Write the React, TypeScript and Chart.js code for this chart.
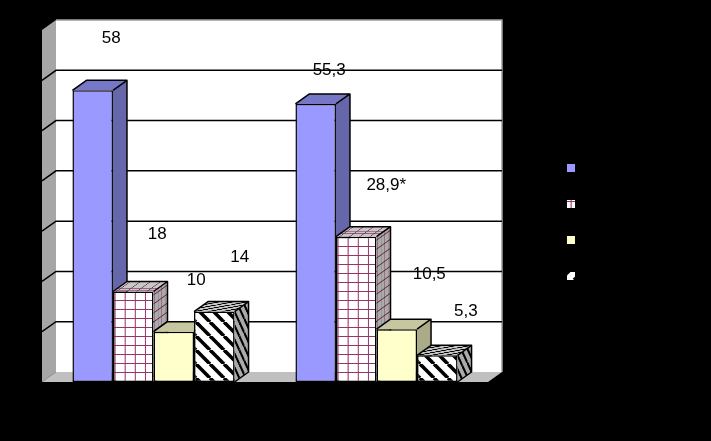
import React, { useEffect, useRef } from "react";
import { Chart, registerables } from "chart.js";

Chart.register(...registerables);

const categories = ["", ""];
const series1 = [58, 55.3];
const series2 = [18, 28.9];
const series3 = [10, 10.5];
const series4 = [14, 5.3];
const labels1 = ["58", "55,3"];
const labels2 = ["18", "28,9*"];
const labels3 = ["10", "10,5"];
const labels4 = ["14", "5,3"];
const yTicks = [0, 10, 20, 30, 40, 50, 60, 70];

const labelOffsets1 = [[18.5, -52], [13.5, -33.5]];
const labelOffsets2 = [[24, -57.5], [30, -51.6]];
const labelOffsets3 = [[22.5, -51.4], [32.5, -55]];
const labelOffsets4 = [[25.5, -54.6], [28.5, -44]];

const DEPTH_X = 14;
const DEPTH_Y = 10;

function tile(w: number, h: number, draw: (c: CanvasRenderingContext2D) => void) {
  const cv = document.createElement("canvas");
  cv.width = w;
  cv.height = h;
  const c = cv.getContext("2d")!;
  draw(c);
  return c.createPattern(cv, "repeat")!;
}

function gridPattern() {
  const p = tile(10, 9, (c) => {
    c.fillStyle = "#ffffff";
    c.fillRect(0, 0, 10, 9);
    c.fillStyle = "#993366";
    c.fillRect(0, 0, 10, 1);
    c.fillRect(0, 0, 1, 9);
  });
  p.setTransform(new DOMMatrix([1.0136, 0, 0, 1, 3, 3]));
  return p;
}

function stripePattern(flip: boolean) {
  return tile(14, 14, (c) => {
    c.fillStyle = "#ffffff";
    c.fillRect(0, 0, 14, 14);
    c.strokeStyle = "#000000";
    c.lineWidth = 3.6;
    for (let i = -14; i <= 28; i += 14) {
      c.beginPath();
      if (flip) {
        c.moveTo(i, 14);
        c.lineTo(i + 14, 0);
      } else {
        c.moveTo(i, 0);
        c.lineTo(i + 14, 14);
      }
      c.stroke();
    }
  });
}

function drawFaces(chart: any, index: number) {
  const ctx = chart.ctx;
  const ds = chart.data.datasets[index];
  const fill = ds.backgroundColor;
  for (const el of chart.getDatasetMeta(index).data) {
    const w = el.width;
    const x0 = el.x - w / 2;
    const x1 = el.x + w / 2;
    const t = el.y;
    const b = el.base;
    const h = b - t;
    const shade = (matrix: number[], rw: number, rh: number, alpha: number) => {
      ctx.save();
      ctx.transform(...(matrix as [number, number, number, number, number, number]));
      ctx.fillStyle = fill;
      ctx.fillRect(0, 0, rw, rh);
      ctx.fillStyle = `rgba(0,0,0,${alpha})`;
      ctx.fillRect(0, 0, rw, rh);
      ctx.restore();
    };
    shade([DEPTH_X / w, -DEPTH_Y / w, 0, 1, x1, t], w, h, 0.33);
    shade([1, 0, DEPTH_X / w, -DEPTH_Y / w, x0, t], w, w, 0.22);
    ctx.save();
    ctx.strokeStyle = "#000000";
    ctx.lineWidth = 1.5;
    ctx.lineJoin = "round";
    ctx.beginPath();
    ctx.moveTo(x0, t);
    ctx.lineTo(x0 + DEPTH_X, t - DEPTH_Y);
    ctx.lineTo(x1 + DEPTH_X, t - DEPTH_Y);
    ctx.lineTo(x1 + DEPTH_X, b - DEPTH_Y);
    ctx.lineTo(x1, b);
    ctx.moveTo(x1, t);
    ctx.lineTo(x1 + DEPTH_X, t - DEPTH_Y);
    ctx.stroke();
    ctx.restore();
  }
}

const scenePlugin = {
  id: "scene",
  beforeDraw(chart: any) {
    const lg = chart.legend;
    if (lg) {
      lg.left = 543;
      lg.right = lg.left + lg.width;
      lg.top = 138;
      lg.bottom = 441;
    }
  },
  beforeDatasetsDraw(chart: any) {
    const ctx = chart.ctx;
    const y = chart.scales.y;
    const { left, right } = chart.chartArea;
    const bottom = y.getPixelForValue(0);
    const top = y.getPixelForValue(70);
    ctx.save();
    ctx.fillStyle = "#a6a6a6";
    ctx.beginPath();
    ctx.moveTo(left, top);
    ctx.lineTo(left + DEPTH_X, top - DEPTH_Y);
    ctx.lineTo(left + DEPTH_X, bottom - DEPTH_Y);
    ctx.lineTo(left, bottom);
    ctx.closePath();
    ctx.fill();
    ctx.fillStyle = "#ffffff";
    ctx.fillRect(left + DEPTH_X, top - DEPTH_Y, right - left, bottom - top);
    ctx.fillStyle = "#c0c0c0";
    ctx.beginPath();
    ctx.moveTo(left + DEPTH_X, bottom - DEPTH_Y);
    ctx.lineTo(right + DEPTH_X, bottom - DEPTH_Y);
    ctx.lineTo(right, bottom);
    ctx.lineTo(left, bottom);
    ctx.closePath();
    ctx.fill();
    ctx.strokeStyle = "#a0a0a0";
    ctx.lineWidth = 1.5;
    ctx.beginPath();
    ctx.moveTo(left + DEPTH_X, top - DEPTH_Y);
    ctx.lineTo(right + DEPTH_X, top - DEPTH_Y);
    ctx.lineTo(right + DEPTH_X, bottom - DEPTH_Y);
    ctx.stroke();
    ctx.strokeStyle = "#000000";
    ctx.lineWidth = 1.5;
    for (const v of yTicks) {
      if (v === 0 || v === 70) continue;
      const py = y.getPixelForValue(v);
      ctx.beginPath();
      ctx.moveTo(left, py);
      ctx.lineTo(left + DEPTH_X, py - DEPTH_Y);
      ctx.lineTo(right + DEPTH_X, py - DEPTH_Y);
      ctx.stroke();
    }
    ctx.restore();
  },
  // the library paints datasets last-to-first; a 3-D row has to go first-to-last
  beforeDatasetDraw() {
    return false;
  },
  afterDatasetsDraw(chart: any) {
    const ctx = chart.ctx;
    chart.data.datasets.forEach((_: any, i: number) => {
      drawFaces(chart, i);
      chart.getDatasetMeta(i).controller.draw();
    });
    ctx.save();
    ctx.fillStyle = "#000000";
    ctx.font = '17px "Liberation Sans"';
    ctx.textAlign = "center";
    ctx.textBaseline = "middle";
    chart.data.datasets.forEach((ds: any, i: number) => {
      chart.getDatasetMeta(i).data.forEach((el: any, j: number) => {
        const [dx, dy] = ds.labelOffsets[j];
        ctx.fillText(ds.valueLabels[j], el.x + dx, el.y + dy);
      });
    });
    ctx.restore();
  },
};

export default function App() {
  const ref = useRef<HTMLCanvasElement>(null);
  useEffect(() => {
    document.body.style.margin = "0";
    document.body.style.background = "#000000";
    const grid = gridPattern();
    const stripes = stripePattern(false);
    const legendStripes = stripePattern(true);
    const swatches = ["#9999ff", grid, "#ffffcc", legendStripes];
    const chart = new Chart(ref.current!, {
      type: "bar",
      data: {
        labels: categories,
        datasets: [
          { label: "", data: series1, backgroundColor: "#9999ff", valueLabels: labels1, labelOffsets: labelOffsets1 },
          { label: "", data: series2, backgroundColor: grid, valueLabels: labels2, labelOffsets: labelOffsets2 },
          { label: "", data: series3, backgroundColor: "#ffffcc", valueLabels: labels3, labelOffsets: labelOffsets3 },
          { label: "", data: series4, backgroundColor: stripes, valueLabels: labels4, labelOffsets: labelOffsets4 },
        ].map((d) => ({
          ...d,
          borderColor: "#000000",
          borderWidth: 1.5,
          borderSkipped: false,
          categoryPercentage: 0.727,
          barPercentage: 1,
        })) as any,
      },
      options: {
        animation: false,
        responsive: false,
        devicePixelRatio: 1,
        layout: { padding: { top: 30, bottom: 59, left: 0, right: 175 } },
        scales: {
          x: { display: false },
          y: {
            min: 0,
            max: 70,
            grid: { display: false },
            border: { display: false },
            ticks: {
              stepSize: 10,
              color: "#000000",
              font: { family: '"Liberation Sans"', size: 13 },
            },
            afterFit: (s: any) => {
              s.width = 42;
            },
          },
        },
        plugins: {
          tooltip: { enabled: false },
          title: { display: false },
          legend: {
            position: "right",
            align: "start",
            labels: {
              boxWidth: 8,
              boxHeight: 8,
              padding: 24,
              font: { family: '"Liberation Sans"', size: 12 },
              generateLabels: () =>
                swatches.map((s, i) => ({
                  text: "",
                  fillStyle: s as any,
                  strokeStyle: "rgba(0,0,0,0)",
                  lineWidth: 0,
                  hidden: false,
                  datasetIndex: i,
                })),
            },
          },
        },
      },
      plugins: [scenePlugin],
    } as any);
    return () => chart.destroy();
  }, []);
  return <canvas ref={ref} width={711} height={441} style={{ display: "block" }} />;
}
